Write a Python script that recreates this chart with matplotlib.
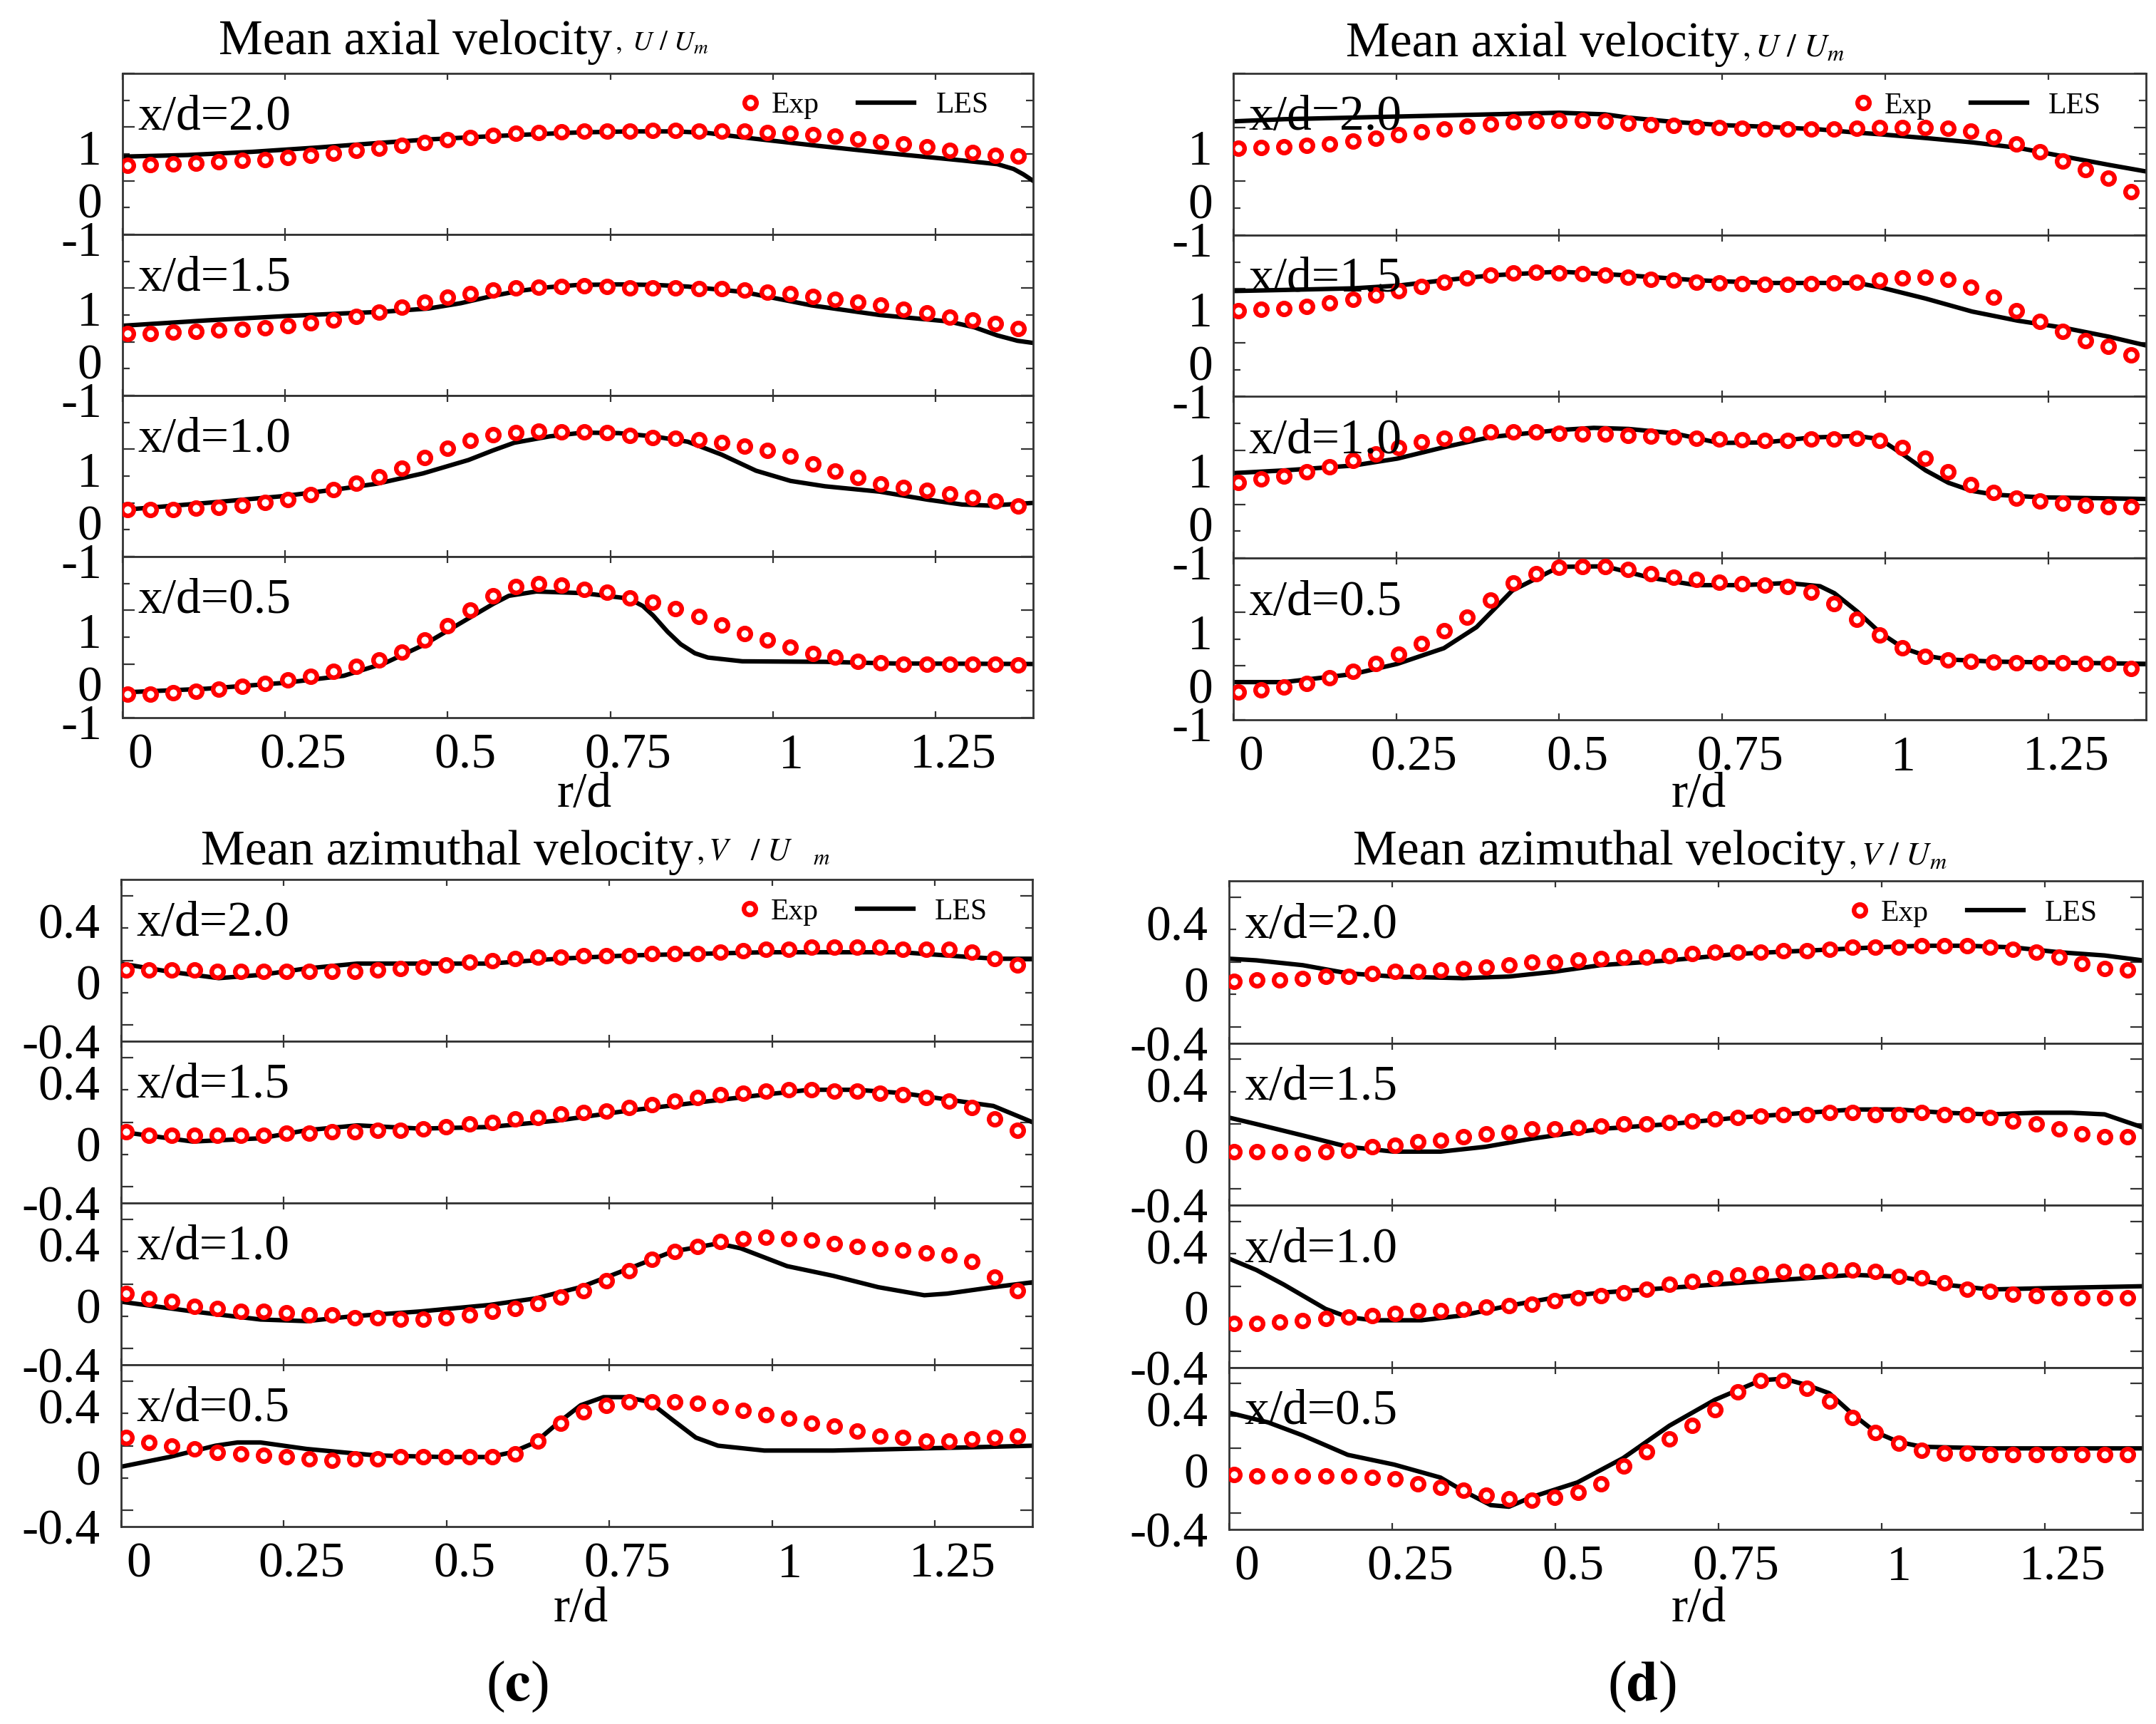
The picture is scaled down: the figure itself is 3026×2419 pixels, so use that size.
import matplotlib
matplotlib.use("Agg")
import matplotlib.pyplot as plt
from matplotlib.ticker import FixedLocator, FixedFormatter, MultipleLocator
from matplotlib.transforms import ScaledTranslation
from matplotlib.legend_handler import HandlerLine2D

plt.rcParams["font.family"] = ["Liberation Serif", "DejaVu Serif"]
plt.rcParams["mathtext.fontset"] = "stix"

# radial stations of the measurements (r/d)
R_EXP = [0.008, 0.043, 0.078, 0.113, 0.148, 0.184, 0.219, 0.254, 0.289, 0.324,
         0.359, 0.394, 0.429, 0.464, 0.499, 0.535, 0.570, 0.605, 0.640, 0.675,
         0.710, 0.745, 0.780, 0.815, 0.850, 0.886, 0.921, 0.956, 0.991, 1.026,
         1.061, 1.096, 1.131, 1.166, 1.201, 1.237, 1.272, 1.307, 1.342, 1.377]
R_TICKS = [0, 0.25, 0.5, 0.75, 1.0, 1.25]
R_LABELS = ["0", "0.25", "0.5", "0.75", "1", "1.25"]
STATIONS = ["x/d=2.0", "x/d=1.5", "x/d=1.0", "x/d=0.5"]

# ---- mean axial velocity, case (c) ----
U_C_20 = [0.29, 0.30, 0.31, 0.33, 0.35, 0.38, 0.40, 0.43, 0.47, 0.51,
          0.56, 0.60, 0.66, 0.71, 0.76, 0.81, 0.85, 0.88, 0.90, 0.91,
          0.92, 0.93, 0.93, 0.94, 0.94, 0.93, 0.93, 0.92, 0.90, 0.88,
          0.86, 0.83, 0.78, 0.73, 0.69, 0.63, 0.57, 0.53, 0.48, 0.46]
U_C_20_LES_R = [0, 0.1, 0.2, 0.3, 0.4, 0.47, 0.55, 0.62, 0.7, 0.78, 0.85, 0.9,
                0.96, 1.07, 1.18, 1.29, 1.345, 1.37, 1.385, 1.4]
U_C_20_LES = [0.45, 0.48, 0.54, 0.62, 0.71, 0.77, 0.82, 0.86, 0.90, 0.92, 0.92, 0.89,
              0.80, 0.65, 0.51, 0.38, 0.31, 0.22, 0.12, 0.0]

U_C_15 = [0.15, 0.16, 0.18, 0.20, 0.22, 0.24, 0.26, 0.30, 0.36, 0.41,
          0.47, 0.55, 0.64, 0.74, 0.83, 0.90, 0.96, 1.00, 1.02, 1.03,
          1.04, 1.03, 1.01, 1.01, 1.00, 0.99, 0.99, 0.96, 0.93, 0.90,
          0.85, 0.79, 0.74, 0.68, 0.60, 0.54, 0.46, 0.41, 0.34, 0.25]
U_C_15_LES_R = [0, 0.13, 0.25, 0.34, 0.40, 0.47, 0.52, 0.567, 0.61, 0.657, 0.70,
                0.763, 0.82, 0.869, 0.954, 1.059, 1.164, 1.27, 1.31, 1.345, 1.376, 1.4]
U_C_15_LES = [0.30, 0.40, 0.48, 0.53, 0.56, 0.62, 0.72, 0.85, 0.95, 1.02, 1.06,
              1.07, 1.06, 1.03, 0.93, 0.68, 0.50, 0.38, 0.27, 0.12, 0.02, -0.02]

U_C_10 = [-0.13, -0.13, -0.12, -0.10, -0.08, -0.04, 0.01, 0.06, 0.15, 0.25,
          0.37, 0.49, 0.65, 0.84, 1.02, 1.16, 1.27, 1.31, 1.33, 1.32,
          1.32, 1.31, 1.26, 1.22, 1.21, 1.18, 1.12, 1.06, 0.98, 0.87,
          0.73, 0.59, 0.48, 0.36, 0.29, 0.23, 0.17, 0.10, 0.04, -0.06]
U_C_10_LES_R = [0, 0.129, 0.25, 0.34, 0.392, 0.462, 0.532, 0.57, 0.602, 0.657, 0.708,
                0.763, 0.816, 0.869, 0.921, 0.974, 1.027, 1.08, 1.164, 1.238, 1.291,
                1.333, 1.4]
U_C_10_LES = [-0.13, 0.0, 0.13, 0.27, 0.36, 0.55, 0.80, 0.98, 1.12, 1.24, 1.31,
              1.30, 1.24, 1.14, 0.90, 0.60, 0.41, 0.31, 0.21, 0.06, -0.03,
              -0.05, 0.0]

U_C_05 = [-0.56, -0.56, -0.54, -0.51, -0.47, -0.41, -0.36, -0.30, -0.23, -0.14,
          -0.04, 0.07, 0.22, 0.45, 0.71, 1.00, 1.27, 1.44, 1.49, 1.47,
          1.39, 1.33, 1.23, 1.15, 1.03, 0.89, 0.73, 0.56, 0.45, 0.31,
          0.20, 0.13, 0.05, 0.02, 0.00, 0.00, -0.01, -0.01, -0.01, -0.02]
U_C_05_LES_R = [0, 0.129, 0.25, 0.34, 0.404, 0.462, 0.532, 0.57, 0.594, 0.636, 0.708,
                0.778, 0.80, 0.816, 0.838, 0.858, 0.88, 0.90, 0.953, 1.08, 1.186, 1.4]
U_C_05_LES = [-0.53, -0.46, -0.35, -0.22, 0.02, 0.35, 0.85, 1.12, 1.27, 1.35, 1.32,
              1.22, 1.08, 0.90, 0.60, 0.37, 0.20, 0.12, 0.05, 0.04, 0.01, 0.0]

# ---- mean axial velocity, case (d) ----
U_D_20 = [0.61, 0.63, 0.64, 0.66, 0.69, 0.74, 0.79, 0.86, 0.91, 0.97,
          1.02, 1.06, 1.10, 1.12, 1.13, 1.13, 1.11, 1.08, 1.05, 1.03,
          1.01, 0.99, 0.98, 0.97, 0.97, 0.97, 0.97, 0.98, 0.99, 1.00,
          1.00, 0.98, 0.93, 0.82, 0.69, 0.55, 0.37, 0.21, 0.05, -0.20]
U_D_20_LES_R = [0, 0.078, 0.184, 0.289, 0.395, 0.5, 0.57, 0.606, 0.675, 0.75,
                0.817, 0.9, 0.957, 0.992, 1.062, 1.133, 1.203, 1.273, 1.344, 1.4]
U_D_20_LES = [1.11, 1.15, 1.18, 1.21, 1.24, 1.27, 1.24, 1.18, 1.10, 1.04,
              1.01, 0.96, 0.90, 0.87, 0.80, 0.72, 0.62, 0.46, 0.30, 0.18]

U_D_15 = [0.60, 0.62, 0.64, 0.68, 0.74, 0.81, 0.89, 0.96, 1.05, 1.13,
          1.20, 1.25, 1.29, 1.31, 1.30, 1.28, 1.25, 1.22, 1.18, 1.16,
          1.13, 1.11, 1.10, 1.09, 1.09, 1.10, 1.11, 1.13, 1.16, 1.20,
          1.21, 1.17, 1.03, 0.84, 0.60, 0.39, 0.21, 0.04, -0.07, -0.22]
U_D_15_LES_R = [0, 0.078, 0.184, 0.252, 0.323, 0.395, 0.5, 0.606, 0.711, 0.817,
                0.957, 0.992, 1.062, 1.133, 1.203, 1.273, 1.344, 1.4]
U_D_15_LES = [0.96, 0.98, 1.01, 1.06, 1.16, 1.25, 1.32, 1.25, 1.16, 1.11,
              1.11, 1.03, 0.82, 0.58, 0.41, 0.28, 0.11, -0.05]

U_D_10 = [0.41, 0.47, 0.53, 0.60, 0.70, 0.82, 0.93, 1.05, 1.16, 1.23,
          1.30, 1.34, 1.35, 1.34, 1.32, 1.31, 1.30, 1.28, 1.26, 1.25,
          1.23, 1.21, 1.20, 1.19, 1.19, 1.21, 1.21, 1.22, 1.18, 1.06,
          0.86, 0.60, 0.37, 0.22, 0.12, 0.06, 0.02, -0.02, -0.05, -0.05]
U_D_10_LES_R = [0, 0.078, 0.184, 0.252, 0.323, 0.395, 0.5, 0.553, 0.606, 0.675, 0.745,
                0.816, 0.886, 0.957, 0.992, 1.028, 1.062, 1.097, 1.133, 1.168, 1.239, 1.4]
U_D_10_LES = [0.58, 0.63, 0.72, 0.85, 1.06, 1.25, 1.38, 1.42, 1.40, 1.32, 1.14,
              1.15, 1.24, 1.27, 1.21, 0.92, 0.63, 0.40, 0.25, 0.18, 0.13, 0.10]

U_D_05 = [-0.49, -0.44, -0.39, -0.32, -0.22, -0.10, 0.04, 0.22, 0.41, 0.66,
          0.91, 1.22, 1.54, 1.71, 1.83, 1.85, 1.84, 1.79, 1.71, 1.65,
          1.61, 1.56, 1.53, 1.50, 1.48, 1.37, 1.16, 0.87, 0.57, 0.33,
          0.18, 0.11, 0.08, 0.07, 0.06, 0.06, 0.06, 0.05, 0.04, -0.05]
U_D_05_LES_R = [0, 0.078, 0.184, 0.252, 0.323, 0.373, 0.428, 0.5, 0.57, 0.639, 0.71,
                0.781, 0.85, 0.90, 0.922, 0.957, 0.992, 1.028, 1.062, 1.097, 1.168, 1.4]
U_D_05_LES = [-0.30, -0.30, -0.15, 0.04, 0.33, 0.72, 1.40, 1.84, 1.85, 1.64, 1.50,
              1.50, 1.54, 1.48, 1.35, 1.01, 0.62, 0.33, 0.19, 0.12, 0.08, 0.04]

# ---- mean azimuthal velocity, case (c) ----
V_C_20 = [-0.06, -0.06, -0.06, -0.06, -0.07, -0.07, -0.07, -0.07, -0.07, -0.07,
          -0.07, -0.06, -0.05, -0.04, -0.03, -0.01, 0.00, 0.01, 0.02, 0.02,
          0.03, 0.03, 0.03, 0.04, 0.04, 0.04, 0.05, 0.06, 0.07, 0.07,
          0.08, 0.08, 0.08, 0.08, 0.07, 0.07, 0.07, 0.05, 0.01, -0.03]
V_C_20_LES_R = [0, 0.074, 0.15, 0.214, 0.285, 0.363, 0.46, 0.566, 0.671, 0.777,
                0.883, 0.988, 1.094, 1.199, 1.305, 1.345, 1.4]
V_C_20_LES = [-0.02, -0.07, -0.11, -0.09, -0.05, -0.02, -0.02, -0.02, 0.01, 0.03,
              0.04, 0.05, 0.05, 0.05, 0.02, 0.01, 0.01]

V_C_15 = [-0.06, -0.08, -0.08, -0.08, -0.08, -0.08, -0.08, -0.07, -0.07, -0.06,
          -0.06, -0.05, -0.05, -0.04, -0.03, -0.01, 0.00, 0.02, 0.03, 0.05,
          0.06, 0.07, 0.09, 0.11, 0.13, 0.15, 0.17, 0.18, 0.19, 0.20,
          0.20, 0.19, 0.19, 0.18, 0.17, 0.15, 0.13, 0.09, 0.02, -0.05]
V_C_15_LES_R = [0, 0.11, 0.214, 0.285, 0.363, 0.46, 0.566, 0.671, 0.777, 0.883,
                0.988, 1.058, 1.129, 1.199, 1.269, 1.34, 1.4]
V_C_15_LES = [-0.06, -0.12, -0.10, -0.05, -0.02, -0.04, -0.03, 0.01, 0.07, 0.12,
              0.17, 0.20, 0.20, 0.18, 0.14, 0.10, 0.0]

V_C_10 = [-0.06, -0.09, -0.11, -0.14, -0.15, -0.17, -0.17, -0.18, -0.19, -0.19,
          -0.21, -0.21, -0.22, -0.22, -0.21, -0.19, -0.17, -0.15, -0.12, -0.08,
          -0.04, 0.02, 0.08, 0.15, 0.20, 0.23, 0.26, 0.28, 0.29, 0.28,
          0.27, 0.25, 0.23, 0.22, 0.21, 0.19, 0.18, 0.14, 0.04, -0.04]
V_C_10_LES_R = [0, 0.11, 0.214, 0.285, 0.355, 0.46, 0.566, 0.636, 0.706, 0.777,
                0.847, 0.917, 0.952, 1.023, 1.094, 1.163, 1.234, 1.269, 1.34, 1.4]
V_C_10_LES = [-0.11, -0.17, -0.22, -0.23, -0.20, -0.17, -0.13, -0.09, -0.02, 0.09,
              0.20, 0.25, 0.22, 0.11, 0.05, -0.02, -0.07, -0.06, -0.02, 0.01]

V_C_05 = [0.05, 0.02, 0.00, -0.02, -0.04, -0.05, -0.06, -0.07, -0.08, -0.09,
          -0.08, -0.08, -0.07, -0.07, -0.07, -0.07, -0.07, -0.05, 0.03, 0.14,
          0.21, 0.25, 0.27, 0.27, 0.27, 0.26, 0.24, 0.22, 0.19, 0.17,
          0.14, 0.12, 0.09, 0.06, 0.05, 0.03, 0.03, 0.04, 0.05, 0.06]
V_C_05_LES_R = [0, 0.074, 0.145, 0.179, 0.214, 0.285, 0.391, 0.496, 0.566, 0.601,
                0.636, 0.671, 0.706, 0.741, 0.777, 0.812, 0.847, 0.883, 0.917, 0.988,
                1.094, 1.199, 1.305, 1.4]
V_C_05_LES = [-0.13, -0.07, 0.0, 0.02, 0.02, -0.02, -0.06, -0.07, -0.07, -0.04,
              0.02, 0.14, 0.25, 0.30, 0.30, 0.27, 0.16, 0.05, 0.0, -0.03,
              -0.03, -0.02, -0.01, 0.0]

# ---- mean azimuthal velocity, case (d) ----
V_D_20 = [-0.12, -0.11, -0.11, -0.10, -0.09, -0.09, -0.07, -0.06, -0.06, -0.05,
          -0.04, -0.03, -0.02, 0.00, 0.00, 0.01, 0.02, 0.03, 0.03, 0.04,
          0.05, 0.06, 0.06, 0.06, 0.07, 0.07, 0.08, 0.09, 0.09, 0.09,
          0.10, 0.10, 0.10, 0.09, 0.08, 0.06, 0.03, -0.01, -0.04, -0.05]
V_D_20_LES_R = [0, 0.042, 0.113, 0.182, 0.253, 0.358, 0.429, 0.499, 0.569, 0.675,
                0.78, 0.886, 0.991, 1.062, 1.131, 1.202, 1.272, 1.342, 1.4]
V_D_20_LES = [0.02, 0.01, -0.02, -0.07, -0.09, -0.10, -0.09, -0.06, -0.02, 0.01,
              0.05, 0.07, 0.09, 0.10, 0.10, 0.09, 0.06, 0.04, 0.01]

V_D_15 = [-0.17, -0.17, -0.17, -0.18, -0.17, -0.16, -0.14, -0.13, -0.11, -0.10,
          -0.08, -0.06, -0.05, -0.03, -0.03, -0.02, -0.01, 0.00, 0.00, 0.01,
          0.02, 0.03, 0.04, 0.05, 0.06, 0.06, 0.07, 0.07, 0.06, 0.06,
          0.07, 0.06, 0.06, 0.04, 0.02, 0.00, -0.03, -0.06, -0.08, -0.08]
V_D_15_LES_R = [0, 0.042, 0.113, 0.182, 0.253, 0.324, 0.393, 0.464, 0.569, 0.675,
                0.78, 0.886, 0.956, 1.026, 1.096, 1.167, 1.237, 1.291, 1.342, 1.4]
V_D_15_LES = [0.04, 0.0, -0.07, -0.14, -0.17, -0.17, -0.14, -0.09, -0.03, 0.0,
              0.04, 0.07, 0.09, 0.09, 0.07, 0.06, 0.07, 0.07, 0.06, -0.02]

V_D_10 = [-0.23, -0.23, -0.22, -0.21, -0.20, -0.19, -0.18, -0.17, -0.15, -0.15,
          -0.14, -0.13, -0.12, -0.11, -0.09, -0.07, -0.06, -0.04, -0.02, 0.01,
          0.03, 0.05, 0.07, 0.08, 0.09, 0.09, 0.10, 0.10, 0.09, 0.06,
          0.05, 0.02, -0.02, -0.03, -0.05, -0.06, -0.07, -0.07, -0.07, -0.07]
V_D_10_LES_R = [0, 0.042, 0.084, 0.148, 0.182, 0.221, 0.295, 0.358, 0.429, 0.499,
                0.569, 0.675, 0.78, 0.886, 0.956, 1.026, 1.096, 1.167, 1.272, 1.4]
V_D_10_LES = [0.17, 0.10, 0.01, -0.14, -0.19, -0.21, -0.21, -0.18, -0.12, -0.07,
              -0.04, -0.01, 0.02, 0.05, 0.07, 0.06, 0.01, -0.02, -0.01, 0.0]

V_D_05 = [-0.16, -0.17, -0.17, -0.17, -0.17, -0.17, -0.18, -0.19, -0.22, -0.24,
          -0.26, -0.29, -0.31, -0.32, -0.30, -0.27, -0.22, -0.11, -0.02, 0.06,
          0.14, 0.24, 0.35, 0.42, 0.42, 0.37, 0.29, 0.19, 0.10, 0.03,
          -0.01, -0.03, -0.03, -0.04, -0.04, -0.04, -0.04, -0.04, -0.04, -0.04]
V_D_05_LES_R = [0, 0.06, 0.113, 0.182, 0.253, 0.324, 0.358, 0.401, 0.429, 0.464,
                0.534, 0.604, 0.675, 0.745, 0.815, 0.85, 0.886, 0.92, 0.956, 0.991,
                1.026, 1.062, 1.167, 1.4]
V_D_05_LES = [0.22, 0.16, 0.08, -0.04, -0.10, -0.18, -0.26, -0.35, -0.36, -0.30,
              -0.21, -0.06, 0.14, 0.30, 0.42, 0.43, 0.39, 0.34, 0.21, 0.10,
              0.04, 0.01, 0.0, 0.0]

W, H = 3026, 2419
fig = plt.figure(figsize=(W / 100, H / 100), dpi=100)
INK = "#333333"


def shift(text, dx, dy):
    # move a text by dx, dy pixels
    text.set_transform(text.get_transform()
                       + ScaledTranslation(dx / 100, dy / 100, fig.dpi_scale_trans))


def panel(box, rows, ylim, major, labels, minor, label_dy):
    left, top, right, bottom = box
    h = (bottom - top) / 4
    for k, (name, exp, les_r, les) in enumerate(zip(STATIONS, *rows)):
        ax = fig.add_axes([left / W, 1 - (top + (k + 1) * h) / H,
                           (right - left) / W, h / H])
        les_line, = ax.plot(les_r, les, color="black", lw=4.5, zorder=2)
        exp_line, = ax.plot(R_EXP, exp, ls="none", marker="o", ms=12, mew=4.6,
                            mec="red", mfc="white", zorder=3)
        ax.set_xlim(0, 1.4)
        ax.set_ylim(*ylim)
        ax.xaxis.set_major_locator(FixedLocator(R_TICKS))
        ax.xaxis.set_major_formatter(FixedFormatter(R_LABELS))
        ax.yaxis.set_major_locator(FixedLocator(major))
        ax.yaxis.set_major_formatter(FixedFormatter(labels))
        ax.yaxis.set_minor_locator(MultipleLocator(minor))
        for s in ax.spines.values():
            s.set_color(INK)
            s.set_linewidth(2)
        ax.tick_params(axis="both", which="both", direction="in", top=True,
                       right=True, color=INK, width=1.6, labelsize=50)
        ax.tick_params(axis="y", which="major", length=12, pad=21)
        ax.tick_params(axis="y", which="minor", length=7)
        ax.tick_params(axis="x", which="major", length=6.5, pad=16,
                       labelbottom=(k == 3))
        ax.text(0.017, 0.65, name, transform=ax.transAxes, fontsize=50)
        for tick, dy in zip(ax.yaxis.get_major_ticks(), label_dy):
            shift(tick.label1, 0, dy)
        if k == 3:
            for tick in ax.xaxis.get_major_ticks():
                shift(tick.label1, 25, 0)
        if k == 0:
            hl = 1.9
            ax.legend([exp_line, les_line], ["Exp", "LES"], ncol=2,
                      loc="center right", bbox_to_anchor=(0.951, 0.80),
                      frameon=False, fontsize=30, handlelength=hl,
                      handletextpad=0.72, columnspacing=1.3, borderpad=0,
                      borderaxespad=0,
                      handler_map={exp_line: HandlerLine2D(numpoints=1, xpad=hl)})


U_AXIS = dict(ylim=(-1, 2), major=[-1, 0, 1, 2], labels=["-1", "0", "1", ""],
              minor=0.5, label_dy=[-6, -28, -28, 0])
V_AXIS = dict(ylim=(-0.5, 0.5), major=[-0.4, 0, 0.4], labels=["-0.4", "0", "0.4"],
              minor=0.2, label_dy=[-23, -31, -36])

panel((172, 103, 1450, 1007),
      [[U_C_20, U_C_15, U_C_10, U_C_05],
       [U_C_20_LES_R, U_C_15_LES_R, U_C_10_LES_R, U_C_05_LES_R],
       [U_C_20_LES, U_C_15_LES, U_C_10_LES, U_C_05_LES]], **U_AXIS)
panel((1731, 103, 3012, 1010),
      [[U_D_20, U_D_15, U_D_10, U_D_05],
       [U_D_20_LES_R, U_D_15_LES_R, U_D_10_LES_R, U_D_05_LES_R],
       [U_D_20_LES, U_D_15_LES, U_D_10_LES, U_D_05_LES]], **U_AXIS)
panel((170, 1234, 1449, 2142),
      [[V_C_20, V_C_15, V_C_10, V_C_05],
       [V_C_20_LES_R, V_C_15_LES_R, V_C_10_LES_R, V_C_05_LES_R],
       [V_C_20_LES, V_C_15_LES, V_C_10_LES, V_C_05_LES]], **V_AXIS)
panel((1725, 1236, 3007, 2146),
      [[V_D_20, V_D_15, V_D_10, V_D_05],
       [V_D_20_LES_R, V_D_15_LES_R, V_D_10_LES_R, V_D_05_LES_R],
       [V_D_20_LES, V_D_15_LES, V_D_10_LES, V_D_05_LES]], **V_AXIS)

# panel titles: main words plus a small italic quantity
renderer = fig.canvas.get_renderer()
titles = [
    (307, 76, "Mean axial velocity", r"$,\ U\ /\ U_m$", 28, 6),
    (1889, 79, "Mean axial velocity", r"$,U\ /\ U_m$", 33, 0),
    (282, 1213, "Mean azimuthal velocity", r"$,V\ \ \ /\ U\ \ \ {}_m$", 32, 6),
    (1899, 1213, "Mean azimuthal velocity", r"$,V\ /\ U_m$", 33, 0),
]
for x, y, main, qty, size, lift in titles:
    t = fig.text(x / W, 1 - y / H, main, fontsize=50, va="baseline")
    bb = t.get_window_extent(renderer)
    fig.text((bb.x1 + 4) / W, 1 - (y - lift) / H, qty, fontsize=size,
             va="baseline")

for x, y in [(820, 1132), (2384, 1132), (815, 2275), (2384, 2275)]:
    fig.text(x / W, 1 - y / H, "r/d", fontsize=50, ha="center", va="baseline")

fig.text(726 / W, 1 - 2386 / H, r"($\mathbf{c}$)", fontsize=58, ha="center",
         va="baseline")
fig.text(2304 / W, 1 - 2386 / H, r"($\mathbf{d}$)", fontsize=58, ha="center",
         va="baseline")

fig.savefig("out.png", dpi=100)
